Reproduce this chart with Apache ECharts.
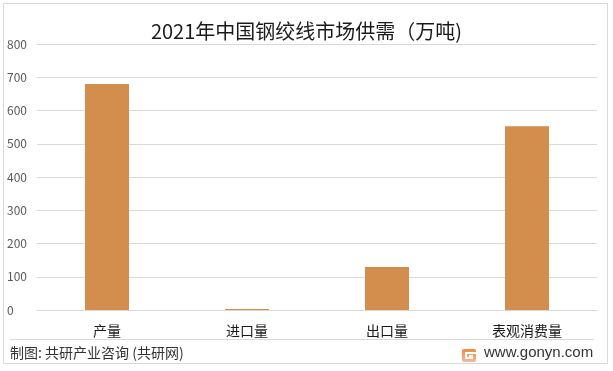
<!DOCTYPE html>
<html>
<head>
<meta charset="utf-8">
<script src="https://cdn.jsdelivr.net/npm/echarts@6/dist/echarts.min.js"></script>
<style>html,body{margin:0;padding:0;background:#fff;}#c{width:613px;height:371px;}</style>
</head>
<body>
<div id="c"></div>
<script>
const titleText = '2021年中国钢绞线市场供需（万吨)';
const categories = ['产量', '进口量', '出口量', '表观消费量'];
const values = [680, 3, 129, 553];
const yTicks = [0, 100, 200, 300, 400, 500, 600, 700, 800];
const sourceText = '制图: 共研产业咨询 (共研网)';
const siteText = 'www.gonyn.com';

const FONT = '"Noto Sans CJK SC", "Noto Sans", sans-serif';
const chart = echarts.init(document.getElementById('c'), null, {renderer: 'canvas'});
chart.setOption({
  backgroundColor: '#fff',
  animation: false,
  title: {
    text: titleText, left: 'center', top: 16,
    textStyle: {fontFamily: FONT, fontSize: 20, fontWeight: 'normal', color: '#1a1a1a'}
  },
  grid: {left: 37, right: 16, top: 44, bottom: 61, containLabel: false},
  xAxis: {
    type: 'category', data: categories,
    axisLine: {show: true, lineStyle: {color: '#d9d9d9'}},
    axisTick: {show: false},
    axisLabel: {fontFamily: FONT, fontSize: 14, color: '#1a1a1a', margin: 14}
  },
  yAxis: {
    type: 'value', min: yTicks[0], max: yTicks[yTicks.length - 1], interval: 100,
    axisLine: {show: false}, axisTick: {show: false},
    splitLine: {lineStyle: {color: '#d9d9d9'}},
    axisLabel: {fontFamily: FONT, fontSize: 12, color: '#595959', align: 'left', margin: 30}
  },
  series: [{
    type: 'bar', data: values, barWidth: 44,
    itemStyle: {color: '#D38D4D'}
  }],
  graphic: [
    {type: 'rect', shape: {x: 3.5, y: 3.5, width: 604, height: 360}, style: {fill: 'none', stroke: '#d9d9d9', lineWidth: 1}, silent: true},
    {type: 'line', shape: {x1: 10, y1: 339.5, x2: 594, y2: 339.5}, style: {stroke: '#d9d9d9', lineWidth: 1}},
    {type: 'text', left: 10, top: 346, style: {text: sourceText, font: '14px ' + FONT, fill: '#333'}},
    {type: 'text', left: 484, top: 345, style: {text: siteText, font: '15px "Liberation Sans", Arial, sans-serif', fill: '#333'}},
    {type: 'group', left: 462, top: 349, children: [
      {type: 'rect', shape: {x: 0, y: 0, width: 14, height: 13, r: 2},
       style: {fill: new echarts.graphic.LinearGradient(0, 0, 0, 1, [{offset: 0, color: '#f28a3c'}, {offset: 1, color: '#f7b7a0'}])}},
      {type: 'rect', shape: {x: 3, y: 3, width: 11, height: 2}, style: {fill: '#fff'}},
      {type: 'rect', shape: {x: 3, y: 3, width: 2, height: 7}, style: {fill: '#fff'}},
      {type: 'rect', shape: {x: 3, y: 8, width: 8, height: 2}, style: {fill: '#fff'}},
      {type: 'rect', shape: {x: 7, y: 6, width: 4, height: 2}, style: {fill: '#fff'}}
    ]}
  ]
});
</script>
</body>
</html>
